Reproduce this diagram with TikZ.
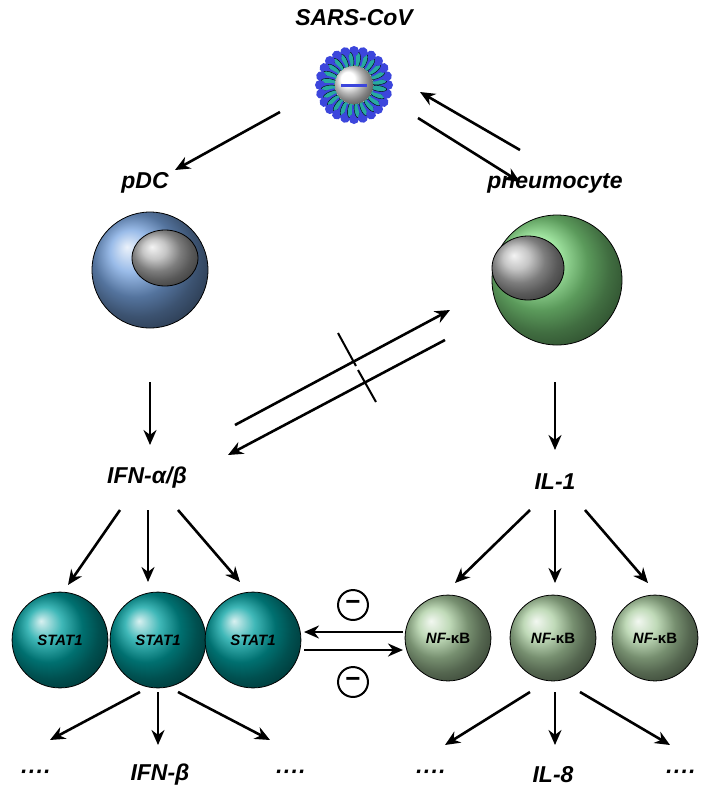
\documentclass[tikz,border=0pt]{standalone}
\usepackage{fontspec}
\setmainfont{Liberation Sans}
\usetikzlibrary{arrows.meta}
\definecolor{pdcblue}{RGB}{120,165,225}
\definecolor{pneugreen}{RGB}{130,220,130}
\definecolor{statteal}{RGB}{0,160,160}
\definecolor{nfgreen}{RGB}{170,205,160}
\definecolor{virblue}{RGB}{60,70,220}
\definecolor{virteal}{RGB}{40,170,160}
\tikzset{
  lbl/.style={font=\bfseries\itshape\fontsize{23}{23}\selectfont},
  ball/.style={circle,draw=black,thick,inner sep=0pt,font=\bfseries\itshape\fontsize{15}{15}\selectfont},
  arr/.style={-{Stealth[length=15pt,width=13pt]},line width=2.6pt},
  minus/.style={circle,draw,line width=2pt,minimum size=30pt,inner sep=0pt}
}
\begin{document}
\begin{tikzpicture}[x=0.0352cm,y=-0.0352cm]
\useasboundingbox (0,0) rectangle (708,800);
% virus
\node[lbl] (sars) at (354,18) {SARS-CoV};
\coordinate (vir) at (354,85);
\foreach \a in {0,15,...,345}{
  \begin{scope}[shift={(vir)},rotate=\a]
    \fill[virblue] (20,-2) rectangle (32,2);
    \fill[virblue] (34,0) circle (5);
  \end{scope}
  \begin{scope}[shift={(vir)},rotate=\a+7]
    \draw[fill=virteal] (25,0) ellipse (8 and 2.8);
  \end{scope}
}
\shade[ball color=white] (vir) circle (19);
\draw[virblue,line width=3pt] (341,85) -- (367,85);
% cells
\node[lbl] (pdc) at (145,183) {pDC};
\node[lbl] (pneu) at (555,183) {pneumocyte};
\shade[ball color=pdcblue] (150,270) circle (58);
\draw[thick] (150,270) circle (58);
\shade[ball color=gray!60] (165,258) ellipse (33 and 28);
\draw[thick] (165,258) ellipse (33 and 28);
\shade[ball color=pneugreen] (557,280) circle (65);
\draw[thick] (557,280) circle (65);
\shade[ball color=gray!60] (528,268) ellipse (36 and 32);
\draw[thick] (528,268) ellipse (36 and 32);
% cytokines
\node[lbl] (ifn) at (147,478) {IFN-α/β};
\node[lbl] (il1) at (555,482) {IL-1};
% balls
\foreach \i/\x in {1/60,2/158,3/253}
  \node[ball,minimum size=96,shading=ball,ball color=statteal] (stat\i) at (\x,640) {STAT1};
\foreach \i/\x in {1/448,2/553,3/655}
  \node[ball,minimum size=86,shading=ball,ball color=nfgreen] (nf\i) at (\x,638) {\textit{NF}-\upshape κB};
% bottom texts
\node[lbl] (d1) at (35,775) {····};
\node[lbl] (ifnb) at (160,775) {IFN-β};
\node[lbl] (d2) at (290,775) {····};
\node[lbl] (d3) at (430,775) {····};
\node[lbl] (il8) at (553,775) {IL-8};
\node[lbl] (d4) at (680,775) {····};
% arrows
\draw[arr] (280,112) -- (175,170);
\draw[arr] (520,150) -- (420,92);
\draw[arr] (418,118) -- (520,182);
\draw[arr] (150,382) -- (150,445);
\draw[arr] (555,382) -- (555,450);
\draw[arr] (235,425) -- (450,310);
\draw[arr] (445,340) -- (228,455);
\draw[line width=2pt] (338,333) -- (356,366);
\draw[line width=2pt] (358,370) -- (376,402);
\draw[arr] (120,510) -- (68,585);
\draw[arr] (148,510) -- (148,582);
\draw[arr] (178,510) -- (240,582);
\draw[arr] (530,510) -- (455,583);
\draw[arr] (555,510) -- (555,583);
\draw[arr] (585,510) -- (648,583);
\draw[arr] (403,632) -- (304,632);
\draw[arr] (304,650) -- (403,650);
\node[minus] (m1) at (353,605) {\bfseries\fontsize{26}{26}\selectfont −};
\node[minus] (m2) at (353,682) {\bfseries\fontsize{26}{26}\selectfont −};
\draw[arr] (140,692) -- (50,740);
\draw[arr] (158,692) -- (158,745);
\draw[arr] (178,692) -- (270,740);
\draw[arr] (530,692) -- (445,745);
\draw[arr] (555,692) -- (555,745);
\draw[arr] (580,692) -- (670,745);
\end{tikzpicture}
\end{document}
